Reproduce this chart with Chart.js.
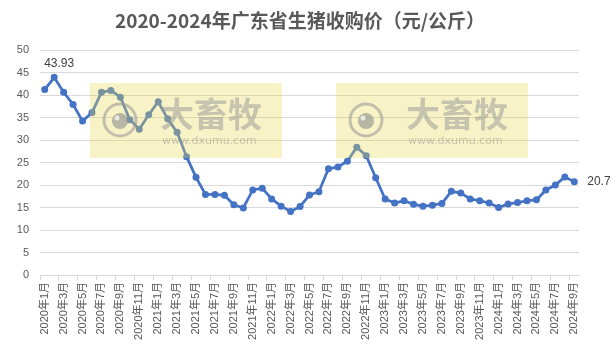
<!DOCTYPE html>
<html>
<head>
<meta charset="utf-8">
<script src="https://cdn.jsdelivr.net/npm/chart.js@4.4.1/dist/chart.umd.min.js"></script>
<style>
  html, body { margin: 0; padding: 0; background: #fff; }
  #wrap { width: 616px; height: 349px; position: relative; }
</style>
</head>
<body>
<div id="wrap"><canvas id="priceChart"></canvas></div>
<script>
// Chart data
const chartTitle = '2020-2024年广东省生猪收购价（元/公斤）';

const months = [
    '2020年1月', '2020年2月', '2020年3月', '2020年4月', '2020年5月', '2020年6月',
    '2020年7月', '2020年8月', '2020年9月', '2020年10月', '2020年11月', '2020年12月',
    '2021年1月', '2021年2月', '2021年3月', '2021年4月', '2021年5月', '2021年6月',
    '2021年7月', '2021年8月', '2021年9月', '2021年10月', '2021年11月', '2021年12月',
    '2022年1月', '2022年2月', '2022年3月', '2022年4月', '2022年5月', '2022年6月',
    '2022年7月', '2022年8月', '2022年9月', '2022年10月', '2022年11月', '2022年12月',
    '2023年1月', '2023年2月', '2023年3月', '2023年4月', '2023年5月', '2023年6月',
    '2023年7月', '2023年8月', '2023年9月', '2023年10月', '2023年11月', '2023年12月',
    '2024年1月', '2024年2月', '2024年3月', '2024年4月', '2024年5月', '2024年6月',
    '2024年7月', '2024年8月', '2024年9月'
];

const prices = [
    41.2, 43.93, 40.6, 37.9, 34.2, 36.1, 40.6, 41.0, 39.5, 34.5, 32.4, 35.6,
    38.5, 34.7, 31.7, 26.3, 21.7, 17.9, 17.9, 17.7, 15.6, 14.9, 18.9, 19.3,
    16.9, 15.3, 14.1, 15.2, 17.8, 18.5, 23.6, 24.0, 25.3, 28.4, 26.5, 21.6,
    16.9, 16.0, 16.5, 15.7, 15.3, 15.5, 15.9, 18.6, 18.2, 16.9, 16.5, 16.0,
    15.0, 15.8, 16.1, 16.5, 16.7, 18.9, 20.0, 21.8, 20.7
];

// values shown as labels next to points
const labelledPoints = [
    { index: 1, text: '43.93', pos: 'top' },
    { index: 56, text: '20.7', pos: 'right' }
];

const yTicks = { min: 0, max: 50, step: 5 };

const textColor = '#595959';
const gridColor = '#d9d9d9';
const lineColor = '#4472C4';

// Title drawn by hand so it can sit where the reference puts it
const titlePlugin = {
    id: 'titleText',
    afterDraw(chart) {
        const ctx = chart.ctx;
        ctx.save();
        ctx.font = 'bold 19px "Noto Sans CJK SC", sans-serif';
        ctx.fillStyle = textColor;
        ctx.textAlign = 'center';
        ctx.textBaseline = 'middle';
        ctx.fillText(chartTitle, 300, 21);
        ctx.restore();
    }
};

// Point value labels
const pointLabelPlugin = {
    id: 'pointLabels',
    afterDatasetsDraw(chart) {
        const ctx = chart.ctx;
        const meta = chart.getDatasetMeta(0);
        ctx.save();
        ctx.font = '12px "Liberation Sans", sans-serif';
        ctx.fillStyle = '#404040';
        ctx.textBaseline = 'middle';
        labelledPoints.forEach(p => {
            const el = meta.data[p.index];
            if (!el) return;
            if (p.pos === 'top') {
                ctx.textAlign = 'center';
                ctx.fillText(p.text, el.x + 5, el.y - 14);
            } else {
                ctx.textAlign = 'left';
                ctx.fillText(p.text, el.x + 13, el.y);
            }
        });
        ctx.restore();
    }
};

// Site watermark boxes laid over the plot
const watermarkPlugin = {
    id: 'watermark',
    afterDatasetsDraw(chart) {
        const ctx = chart.ctx;
        [90, 336].forEach(x0 => {
            ctx.save();
            ctx.fillStyle = 'rgba(232, 218, 80, 0.32)';
            ctx.fillRect(x0, 83, 192, 75);

            // round logo
            ctx.strokeStyle = 'rgba(150, 150, 150, 0.55)';
            ctx.lineWidth = 3;
            ctx.beginPath();
            ctx.arc(x0 + 30, 120, 16, 0, Math.PI * 2);
            ctx.stroke();
            ctx.fillStyle = 'rgba(140, 140, 140, 0.6)';
            ctx.beginPath();
            ctx.arc(x0 + 30, 121, 8, 0, Math.PI * 2);
            ctx.fill();
            ctx.fillStyle = 'rgba(255, 255, 255, 0.7)';
            ctx.beginPath();
            ctx.arc(x0 + 27, 118, 2.5, 0, Math.PI * 2);
            ctx.fill();

            ctx.fillStyle = 'rgba(150, 150, 150, 0.5)';
            ctx.font = 'bold 34px "Noto Sans CJK SC", sans-serif';
            ctx.textBaseline = 'middle';
            ctx.textAlign = 'left';
            ctx.fillText('大畜牧', x0 + 70, 114);
            ctx.font = '11px "DejaVu Sans", sans-serif';
            ctx.fillStyle = 'rgba(150, 150, 150, 0.5)';
            ctx.fillText('www.dxumu.com', x0 + 72, 141);
            ctx.restore();
        });
    }
};

const chart = new Chart(document.getElementById('priceChart').getContext('2d'), {
    type: 'line',
    data: {
        labels: months,
        datasets: [{
            label: '生猪收购价',
            data: prices,
            borderColor: lineColor,
            backgroundColor: lineColor,
            borderWidth: 2.75,
            pointRadius: 3.5,
            pointBorderWidth: 0,
            pointBackgroundColor: lineColor,
            tension: 0
        }]
    },
    options: {
        responsive: true,
        maintainAspectRatio: false,
        animation: false,
        layout: { padding: { top: 50, right: 37, left: 0, bottom: 0 } },
        plugins: {
            legend: { display: false },
            title: { display: false },
            tooltip: { enabled: false }
        },
        scales: {
            x: {
                offset: true,
                afterFit(scale) { scale.height = 74; },
                grid: {
                    offset: true,
                    drawOnChartArea: false,
                    drawTicks: true,
                    tickLength: 5,
                    color: ctx => (ctx.index % 2 === 0 ? gridColor : 'rgba(0,0,0,0)')
                },
                border: { display: true, color: gridColor },
                ticks: {
                    autoSkip: false,
                    minRotation: 90,
                    maxRotation: 90,
                    padding: 2,
                    color: textColor,
                    font: { family: '"Liberation Sans", "Noto Sans CJK SC", sans-serif', size: 11 },
                    callback: function(value, index) {
                        return index % 2 === 0 ? this.getLabelForValue(value) : '';
                    }
                }
            },
            y: {
                min: yTicks.min,
                max: yTicks.max,
                afterFit(scale) { scale.width = 40; },
                grid: { color: gridColor, drawTicks: false },
                border: { display: false },
                ticks: {
                    stepSize: yTicks.step,
                    padding: 11,
                    color: textColor,
                    font: { family: '"Liberation Sans", sans-serif', size: 11 }
                }
            }
        }
    },
    plugins: [titlePlugin, pointLabelPlugin, watermarkPlugin]
});
</script>
</body>
</html>
